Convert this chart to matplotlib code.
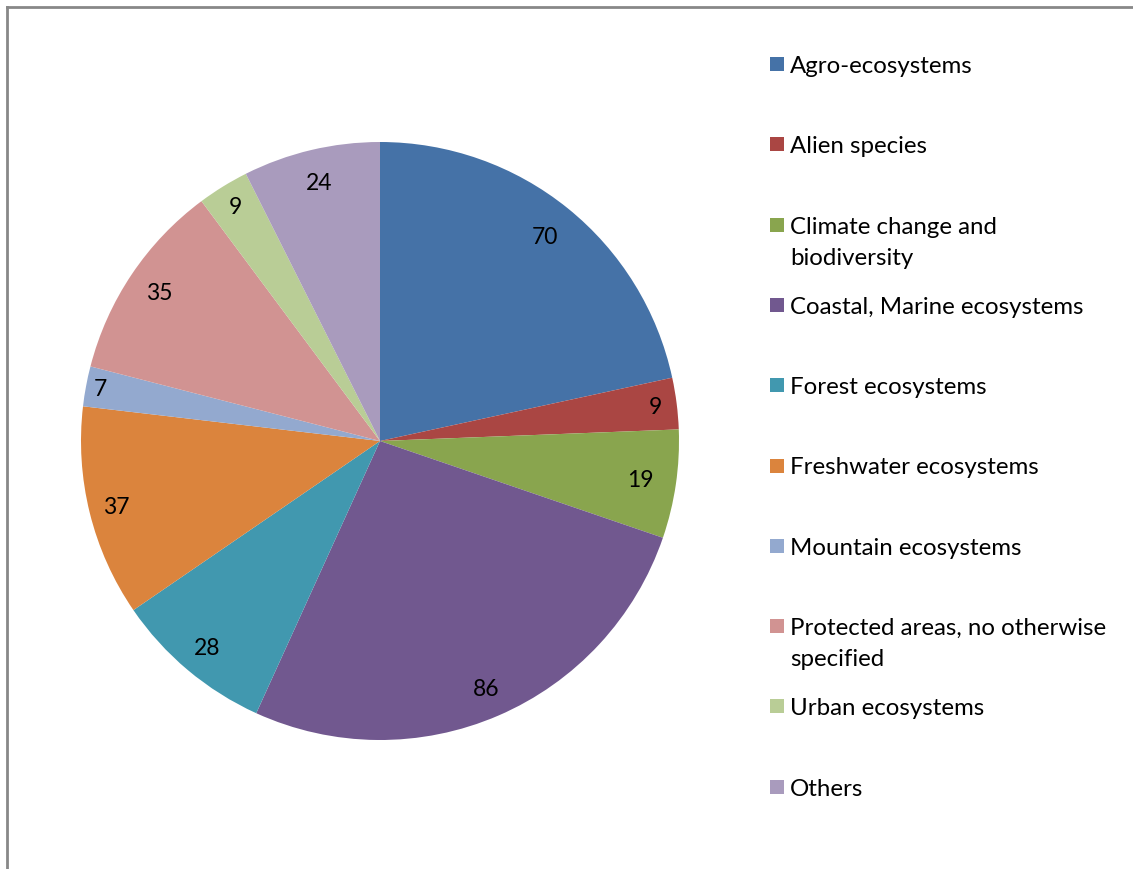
import matplotlib
matplotlib.use("Agg")
import numpy as np
import matplotlib.pyplot as plt
from matplotlib.patches import Rectangle
from matplotlib.lines import Line2D

categories = ["Agro-ecosystems", "Alien species", "Climate change and\nbiodiversity",
              "Coastal, Marine ecosystems", "Forest ecosystems", "Freshwater ecosystems",
              "Mountain ecosystems", "Protected areas, no otherwise\nspecified",
              "Urban ecosystems", "Others"]
values = [70, 9, 19, 86, 28, 37, 7, 35, 9, 24]
colors = ["#4572A7", "#AA4643", "#89A54E", "#71588F", "#4198AF",
          "#DB843D", "#93A9CF", "#D19392", "#B9CD96", "#A99BBD"]

W, H = 1133, 870
plt.rcParams['font.family'] = ['Lato', 'DejaVu Sans']
fig = plt.figure(figsize=(W / 100, H / 100), dpi=100)

cx, cy, r = 380, 442, 299
ax = fig.add_axes([(cx - r) / W, (H - cy - r) / H, 2 * r / W, 2 * r / H])
wedges, texts = ax.pie(values, colors=colors, startangle=90, counterclock=False,
                       radius=1, labels=[str(v) for v in values], labeldistance=0.9,
                       wedgeprops=dict(linewidth=0),
                       textprops=dict(fontsize=16.5, color="black", ha="center", va="center"))
# label radial distances (style), small slices pushed slightly outward
label_dist = [0.88, 0.93, 0.88, 0.9, 0.9, 0.91, 0.95, 0.89, 0.92, 0.89]
for w, t, d in zip(wedges, texts, label_dist):
    ang = np.deg2rad((w.theta1 + w.theta2) / 2)
    t.set_position((d * np.cos(ang), d * np.sin(ang)))
    t.set_ha("center")
    t.set_va("center")
ax.set_xlim(-1, 1)
ax.set_ylim(-1, 1)
ax.set_aspect("equal")
ax.axis("off")

# legend (manual)
y0, dy = 65, 80.3
for i, (lab, c) in enumerate(zip(categories, colors)):
    yc = y0 + dy * i
    fig.patches.append(Rectangle((770 / W, (H - yc - 7) / H), 14 / W, 14 / H,
                                 transform=fig.transFigure, facecolor=c, edgecolor="none"))
    fig.text(790 / W, (H - yc + 9) / H, lab, fontsize=17.3, color="black",
             ha="left", va="top", linespacing=1.6)

# frame lines (top and left only)
fig.add_artist(Line2D([7 / W, 1.0], [1 - 8 / H, 1 - 8 / H], transform=fig.transFigure,
                      color="#888888", linewidth=2))
fig.add_artist(Line2D([7 / W, 7 / W], [0, 1 - 8 / H], transform=fig.transFigure,
                      color="#888888", linewidth=2))

fig.savefig("out.png", dpi=100, facecolor="white")
